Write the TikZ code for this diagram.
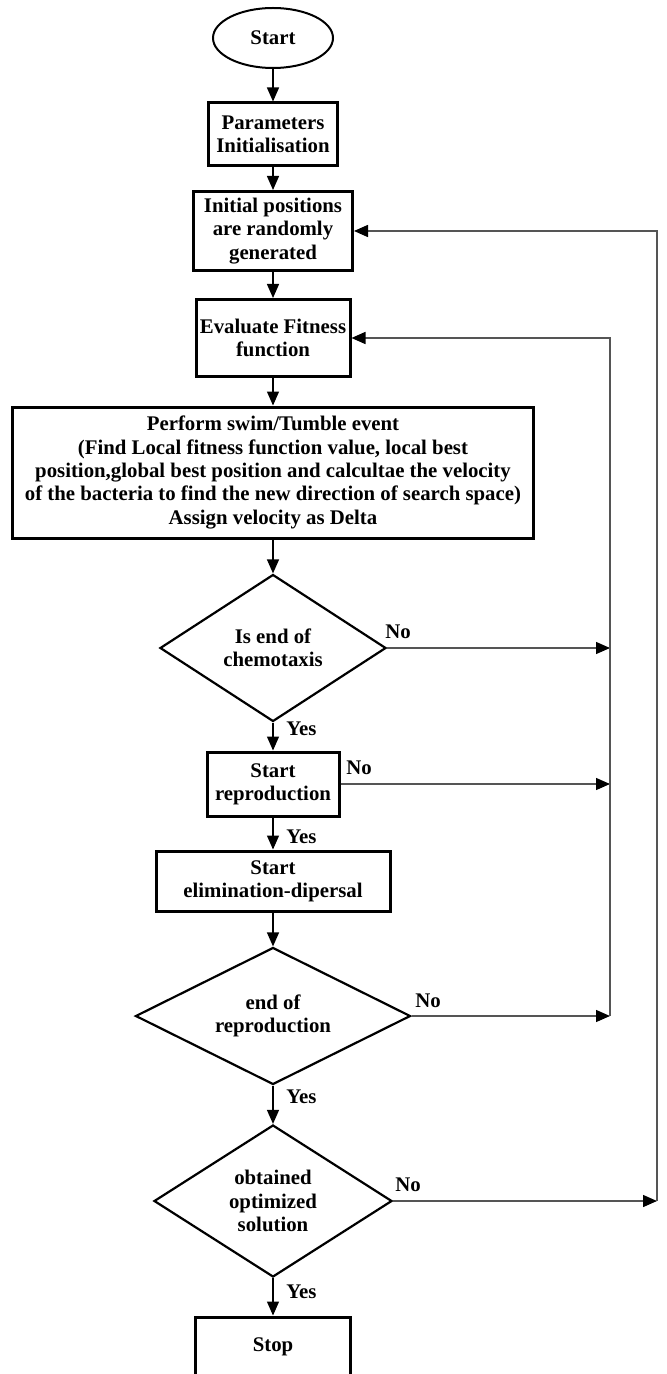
\documentclass[tikz,border=0pt]{standalone}
\usepackage{fontspec}
\setmainfont{Liberation Serif}
\usetikzlibrary{shapes.geometric,arrows.meta}
\definecolor{FlowGray}{HTML}{555555}

\begin{document}
\begin{tikzpicture}[x=0.5pt,y=-0.5pt,
  every node/.style={font=\fontsize{10.4}{11.65}\selectfont\bfseries,align=center},
  box/.style={draw,line width=1.5pt,inner sep=0pt},
  decision/.style={diamond,draw,line width=1.1pt,inner sep=0pt,shape aspect=1.6},
  flow/.style={line width=0.65pt,-{Triangle[black,length=7pt,width=6pt]}},
  backline/.style={FlowGray,line width=0.75pt},
  tag/.style={anchor=west,inner sep=0pt}]
  \useasboundingbox (0,0) rectangle (666,1374);
  % main column
  \node[ellipse,draw,line width=1pt,minimum width=60pt,minimum height=30pt,inner sep=0pt] (start) at (273,38) {Start};
  \node[box,minimum width=64.5pt,minimum height=31.5pt] (param) at (273,134.5) {Parameters\\Initialisation};
  \node[box,minimum width=79.5pt,minimum height=39.5pt] (init) at (273,231) {Initial positions\\are randomly\\generated};
  \node[box,minimum width=77pt,minimum height=38.5pt] (eval) at (273,338) {Evaluate Fitness\\function};
  \node[box,minimum width=260.5pt,minimum height=65.5pt] (swim) at (273,472.5) {Perform swim/Tumble event\\(Find Local fitness function value, local best\\position,global best position and calcultae the velocity\\of the bacteria to find the new direction of search space)\\Assign velocity as Delta};
  \node[decision,minimum width=113pt,minimum height=73.5pt] (chemo) at (273,648) {Is end of\\chemotaxis};
  \node[box,minimum width=66pt,minimum height=32pt] (repro) at (273,784) {Start\\reproduction};
  \node[box,minimum width=117pt,minimum height=30pt] (elim) at (273,881) {Start\\elimination-dipersal};
  \node[decision,minimum width=137.5pt,minimum height=68.5pt] (endrep) at (273,1016) {end of\\reproduction};
  \node[decision,minimum width=119pt,minimum height=76pt] (optim) at (273,1201) {obtained\\optimized\\solution};
  \node[box,minimum width=77.5pt,minimum height=30pt] (stop) at (273,1347) {Stop};
  \draw[flow] (start) -- (param);
  \draw[flow] (param) -- (init);
  \draw[flow] (init) -- (eval);
  \draw[flow] (eval) -- (swim);
  \draw[flow] (swim) -- (chemo);
  \draw[flow] (chemo) -- (repro);
  \draw[flow] (repro) -- (elim);
  \draw[flow] (elim) -- (endrep);
  \draw[flow] (endrep) -- (optim);
  \draw[flow] (optim) -- (stop);
  % labels
  \node[tag] (yes1) at (286,729) {Yes};
  \node[tag] (yes2) at (286,837) {Yes};
  \node[tag] (yes3) at (286,1097) {Yes};
  \node[tag] (yes4) at (286,1292) {Yes};
  \node (no1) at (398,632) {No};
  \node (no2) at (359,768) {No};
  \node (no3) at (428,1001) {No};
  \node (no4) at (408,1185) {No};
  % return lines
  \coordinate (innertop) at (610,338);\coordinate (innerbot) at (610,1016);
  \coordinate (outertop) at (657,231);\coordinate (outerbot) at (657,1201);
  \draw[flow,FlowGray] (chemo.east) -- (chemo.east -| innertop);
  \draw[flow,FlowGray] (repro.east) -- (repro.east -| innertop);
  \draw[flow,FlowGray] (endrep.east) -- (innerbot);
  \draw[backline,-{Triangle[black,length=7pt,width=6pt]}] (innerbot) -- (innertop) -- (eval.east);
  \draw[flow,FlowGray] (optim.east) -- (outerbot);
  \draw[backline,-{Triangle[black,length=7pt,width=6pt]}] (outerbot) -- (outertop) -- (init.east);
\end{tikzpicture}
\end{document}
